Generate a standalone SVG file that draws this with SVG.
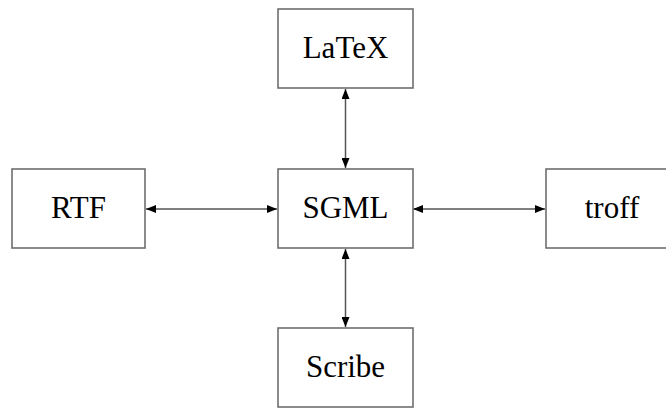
<svg xmlns="http://www.w3.org/2000/svg" width="666" height="409" viewBox="0 0 666 409">
<style>
.box{fill:#fff;stroke:#6e6e6e;stroke-width:1.6}
.lbl{font-size:31px;text-anchor:middle;fill:#000}
.edge{stroke:#555;stroke-width:1.5;fill:none;marker-start:url(#ah);marker-end:url(#ah)}
</style>
<defs>
<marker id="ah" viewBox="0 0 10 8" refX="10" refY="4" markerWidth="10" markerHeight="8" markerUnits="userSpaceOnUse" orient="auto-start-reverse">
<path d="M0,0 L10,4 L0,8 Z" fill="#000"/>
</marker>
</defs>
<g id="connectors">
<line class="edge" x1="345.5" y1="89" x2="345.5" y2="168"/>
<line class="edge" x1="345.5" y1="249" x2="345.5" y2="327"/>
<line class="edge" x1="146" y1="209" x2="277" y2="209"/>
<line class="edge" x1="413" y1="209" x2="545" y2="209"/>
</g>
<g font-family="'Liberation Serif', 'Times New Roman', 'DejaVu Serif', serif">
<g id="latex"><rect class="box" x="278" y="9" width="135" height="79"/><text class="lbl" x="345.5" y="58">LaTeX</text></g>
<g id="sgml"><rect class="box" x="278" y="169" width="135" height="79"/><text class="lbl" x="345.5" y="218">SGML</text></g>
<g id="rtf"><rect class="box" x="12" y="169" width="133" height="79"/><text class="lbl" x="78.5" y="218">RTF</text></g>
<g id="troff"><rect class="box" x="546" y="169" width="135" height="79"/><text class="lbl" x="612" y="218">troff</text></g>
<g id="scribe"><rect class="box" x="278" y="328" width="135" height="79"/><text class="lbl" x="345.5" y="377">Scribe</text></g>
</g>
</svg>
